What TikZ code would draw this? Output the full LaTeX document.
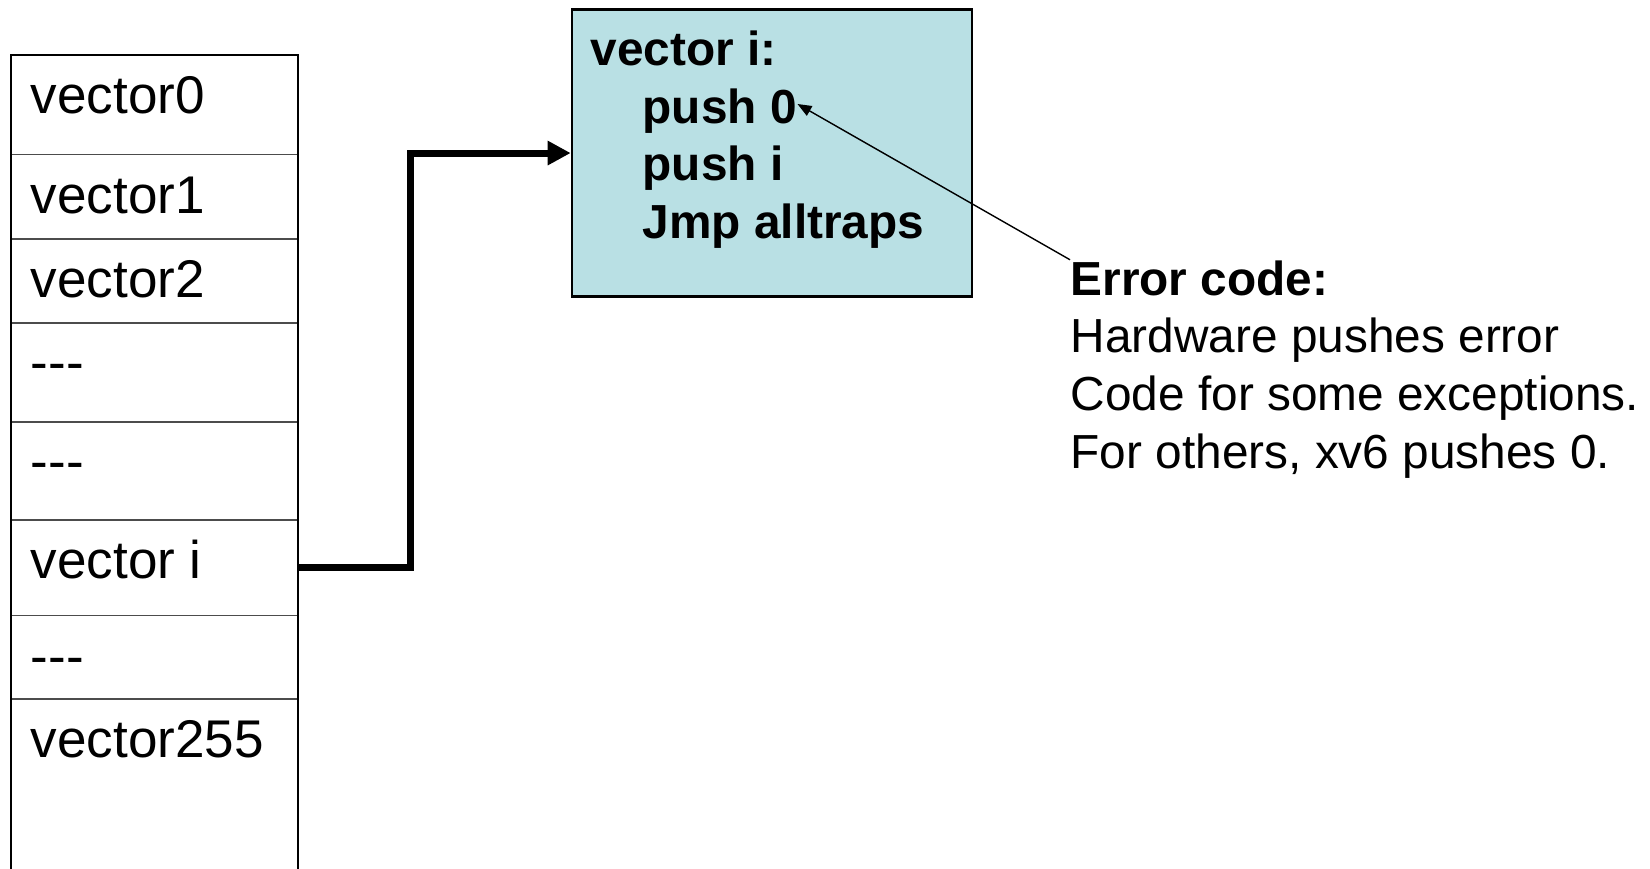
\documentclass[tikz,border=0pt]{standalone}
\usepackage{fontspec}
\setmainfont{Liberation Sans}
\usetikzlibrary{arrows.meta}
\definecolor{STUB}{HTML}{B9E0E4}
\definecolor{BLACK}{HTML}{000000}
\tikzset{
  row/.style={draw=BLACK!70, line width=0.4pt, rectangle, inner sep=0pt, outer sep=0pt, minimum width=2.87cm, anchor=north west},
  entry/.style={anchor=base west, inner sep=0pt, font=\fontsize{15.1}{18}\selectfont},
  code/.style={anchor=base west, inner sep=0pt, align=left, font=\fontsize{13.6}{16.4}\selectfont\bfseries},
  note/.style={anchor=base west, inner sep=0pt, align=left, font=\fontsize{13.6}{16.4}\selectfont},
}
\begin{document}
\begin{tikzpicture}[x=1cm, y=-1cm]
    \useasboundingbox (0,0) rectangle (16.5,8.68);
    % vector table
    \node[row, minimum height=0.995cm] (r0) at (0.11,0.55) {};
    \node[row, minimum height=0.845cm] (r1) at (0.11,1.545) {};
    \node[row, minimum height=0.84cm] (r2) at (0.11,2.39) {};
    \node[row, minimum height=0.99cm] (r3) at (0.11,3.23) {};
    \node[row, minimum height=0.98cm] (r4) at (0.11,4.22) {};
    \node[row, minimum height=0.955cm] (r5) at (0.11,5.20) {};
    \node[row, minimum height=0.835cm] (r6) at (0.11,6.155) {};
    \node[row, minimum height=1.9cm] (r7) at (0.11,6.99) {};
    \draw[BLACK, line width=0.8pt] (0.11,8.8) -- (0.11,0.55) -- (2.98,0.55) -- (2.98,8.8);
    \node[entry] (v0) at (0.30,1.135) {vector0};
    \node[entry] (v1) at (0.30,2.13) {vector1};
    \node[entry] (v2) at (0.30,2.975) {vector2};
    \node[entry] (d3) at (0.30,3.80) {-\kern0pt-\kern0pt-};
    \node[entry] (d4) at (0.30,4.79) {-\kern0pt-\kern0pt-};
    \node[entry] (vi) at (0.30,5.785) {vector i};
    \node[entry] (d6) at (0.30,6.744) {-\kern0pt-\kern0pt-};
    \node[entry] (v255) at (0.30,7.575) {vector255};
    % entry stub (base = last line)
    \node[draw=BLACK, fill=STUB, line width=0.7pt, minimum width=4.003cm, minimum height=2.87cm, anchor=north west, inner sep=0pt] (stub) at (5.707,0.083) {};
    \node[code] (asm) at (5.90,2.385) {vector i:\\\hspace*{0.52cm}push 0\\\hspace*{0.52cm}push i\\\hspace*{0.52cm}Jmp alltraps};
    \coordinate (pushzero) at (7.975,1.04);
    % error code note
    \node[note] (err) at (10.70,4.68) {\textbf{Error code:}\\Hardware pushes error\\Code for some exceptions.\\For others, xv6 pushes 0.};
    \draw[BLACK, line width=2pt, -{Triangle[length=0.23cm, width=0.23cm]}] (r5.east) -- ++(1.127,0) |- (stub.west);
    \draw[BLACK, line width=0.4pt, -{Triangle[length=0.14cm, width=0.11cm]}] (err.north west) -- (pushzero);
\end{tikzpicture}
\end{document}
